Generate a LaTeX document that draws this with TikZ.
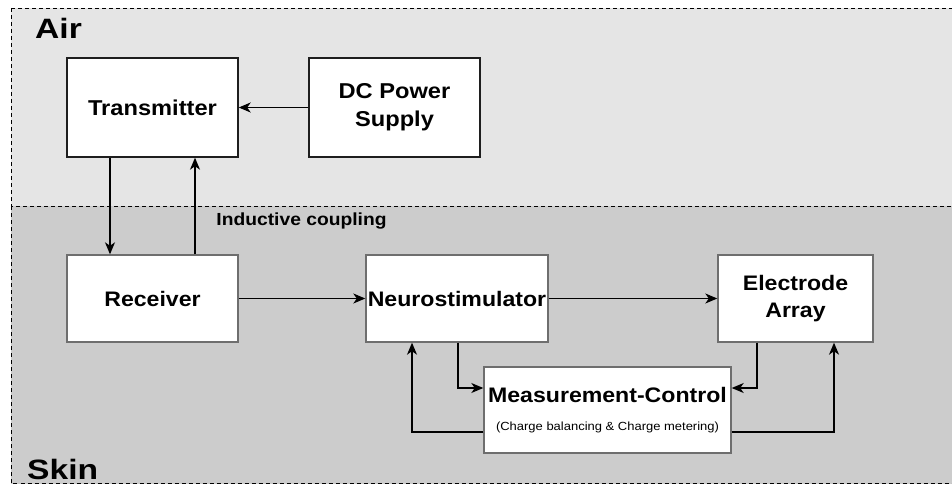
\documentclass[tikz,border=0pt]{standalone}
\usepackage{fontspec}
\setmainfont{Liberation Sans}
\newfontfamily\lsw[FakeStretch=1.1]{Liberation Sans}
\newfontfamily\lsww[FakeStretch=1.2]{Liberation Sans}
\usetikzlibrary{arrows.meta}
\definecolor{airbg}{HTML}{E5E5E5}
\definecolor{skinbg}{HTML}{CCCCCC}
\definecolor{topedge}{HTML}{1E1E1E}
\definecolor{botedge}{HTML}{6E6E6E}
\tikzset{
  region/.style={draw=black, line width=0.9pt, dash pattern=on 4pt off 3pt},
  boxa/.style={draw=topedge, fill=white, line width=1.4pt, inner sep=0pt, align=center,
     font=\lsw\bfseries\fontsize{21.5}{28}\selectfont},
  boxb/.style={draw=botedge, fill=white, line width=1.4pt, inner sep=0pt, align=center,
     font=\lsw\bfseries\fontsize{21}{27}\selectfont},
  conn/.style={line width=1.3pt, -{Stealth[length=12pt,width=10pt,inset=3.5pt]}},
  zonelbl/.style={anchor=base west, inner sep=0pt, font=\lsww\bfseries\fontsize{28}{30}\selectfont},
}
\begin{document}
\begin{tikzpicture}[x=1pt,y=-1pt]
\clip (0,0) rectangle (952,484);
\fill[white] (0,0) rectangle (952,484);
% regions
\draw[region, fill=airbg] (11,8) rectangle (970,206);
\draw[region, fill=skinbg] (11,206) rectangle (970,483.5);
\node[zonelbl] (air) at (35,39) {Air};
\node[zonelbl] (skin) at (27,479.5) {Skin};
% boxes
\node[boxa, minimum width=171pt, minimum height=99pt] (tx) at (152.5,107.5) {Transmitter};
\node[boxa, minimum width=171pt, minimum height=99pt] (dc) at (394.5,107.5) {DC Power\\Supply};
\node[boxb, minimum width=171pt, minimum height=87pt] (rx) at (152.5,298.5) {Receiver};
\node[boxb, minimum width=182pt, minimum height=87pt] (nm) at (457,298.5) {Neurostimulator};
\node[boxb, minimum width=155pt, minimum height=87pt] (ea) at (795.5,298.5) {Electrode\\Array};
\node[boxb, minimum width=247pt, minimum height=86pt] (mc) at (607.5,410) {};
\node[inner sep=0pt, font=\lsw\bfseries\fontsize{21}{24}\selectfont] (mct) at (607.5,395) {Measurement-Control};
\node[inner sep=0pt, font=\lsw\fontsize{11.8}{14}\selectfont] (mcs) at (607.5,427) {(Charge balancing \& Charge metering)};
\node[inner sep=0pt, font=\lsw\bfseries\fontsize{17.5}{20}\selectfont] (ind) at (301.5,221) {Inductive coupling};
% helper coordinates
\coordinate (xa) at (110,0);
\coordinate (xb) at (195,0);
\coordinate (c1) at (458,388);
\coordinate (c2) at (757,388);
\coordinate (c3) at (412,432);
\coordinate (c4) at (834,432);
% connectors
\draw[conn] (dc.west) -- (tx.east);
\draw[conn] (tx.south -| xa) -- (rx.north -| xa);
\draw[conn] (rx.north -| xb) -- (tx.south -| xb);
\draw[conn] (rx.east) -- (nm.west);
\draw[conn] (nm.east) -- (ea.west);
\draw[conn] (nm.south -| c1) |- (mc.west |- c1);
\draw[conn] (ea.south -| c2) |- (mc.east |- c2);
\draw[conn] (mc.west |- c3) -| (nm.south -| c3);
\draw[conn] (mc.east |- c4) -| (ea.south -| c4);
\end{tikzpicture}
\end{document}
